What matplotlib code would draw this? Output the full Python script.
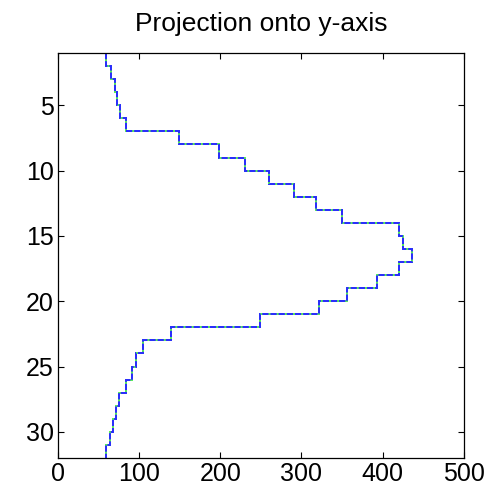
import matplotlib
matplotlib.use("Agg")
import numpy as np
import matplotlib.pyplot as plt

# projection value for each row band (row i -> i+1)
row_edges = np.arange(1, 33)
proj = [60, 66, 70, 73, 77, 84, 149, 199, 231, 260, 291, 318, 350, 420, 425,
        436, 420, 393, 356, 321, 249, 139, 105, 96, 92, 84, 75, 72, 68, 64, 60]
x_ticks = [0, 100, 200, 300, 400, 500]
y_ticks = [5, 10, 15, 20, 25, 30]

plt.rcParams['font.family'] = ['Liberation Sans', 'DejaVu Sans']

fig = plt.figure(figsize=(4.91, 4.90), dpi=100)
ax = fig.add_axes([0.1175, 0.0653, 0.8275, 0.8265])

ax.stairs(proj, row_edges, orientation='horizontal', baseline=None,
          color='#55ee55', lw=1.4)
ax.stairs(proj, row_edges, orientation='horizontal', baseline=None,
          color='#2a2aff', lw=1.4, linestyle=(0, (3.2, 1.0)))

ax.set_xlim(0, 500)
ax.set_ylim(32, 1)
ax.set_xticks(x_ticks)
ax.set_yticks(y_ticks)
ax.tick_params(direction='in', top=True, right=True, length=4, width=0.8,
               labelsize=18, pad=3)
for s in ax.spines.values():
    s.set_linewidth(0.9)

ax.set_title('Projection onto y-axis', fontsize=19, pad=16)

fig.savefig('out.png', dpi=100)
